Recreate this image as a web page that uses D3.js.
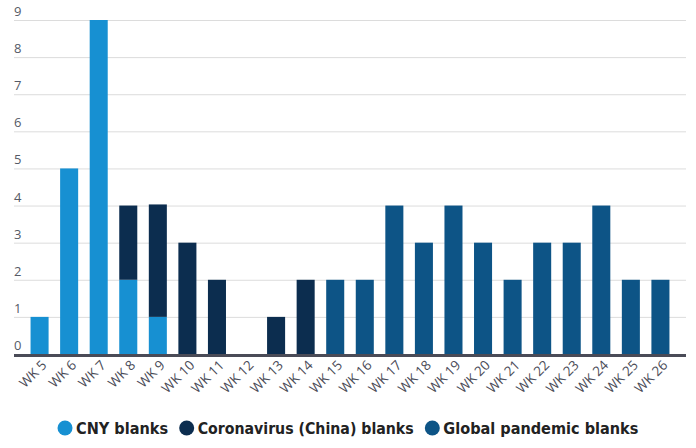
<!DOCTYPE html>
<html>
<head>
<meta charset="utf-8">
<script src="https://cdn.jsdelivr.net/npm/d3@7"></script>
<style>
  html, body { margin: 0; padding: 0; background: #fff; }
  svg { display: block; }
</style>
</head>
<body>
<svg id="chart" width="696" height="448"></svg>
<script>
// Weekly counts of blank sailings, split by cause
const weeks = ["WK 5","WK 6","WK 7","WK 8","WK 9","WK 10","WK 11","WK 12","WK 13","WK 14","WK 15",
               "WK 16","WK 17","WK 18","WK 19","WK 20","WK 21","WK 22","WK 23","WK 24","WK 25","WK 26"];
const cnyBlanks      = [1, 5, 9, 2, 1, 0, 0, 0, 0, 0, 0, 0, 0, 0, 0, 0, 0, 0, 0, 0, 0, 0];
const coronaBlanks   = [0, 0, 0, 2, 3.03, 3, 2, 0, 1, 2, 0, 0, 0, 0, 0, 0, 0, 0, 0, 0, 0, 0];
const pandemicBlanks = [0, 0, 0, 0, 0, 0, 0, 0, 0, 0, 2, 2, 4, 3, 4, 3, 2, 3, 3, 4, 2, 2];
const seriesNames = ["CNY blanks", "Coronavirus (China) blanks", "Global pandemic blanks"];
const seriesKeys = ["cny", "corona", "pandemic"];
const yTicks = [0, 1, 2, 3, 4, 5, 6, 7, 8, 9];

const colors = d3.scaleOrdinal().domain(seriesKeys).range(["#1790d2", "#0c2d4f", "#0d5486"]);

const rows = weeks.map((w, i) => ({
  week: w, cny: cnyBlanks[i], corona: coronaBlanks[i], pandemic: pandemicBlanks[i]
}));
const stacked = d3.stack().keys(seriesKeys)(rows);

const svg = d3.select("#chart");
const margin = { left: 14, right: 10, top: 20, bottom: 94 };
const W = 696, H = 448;

const x = d3.scaleBand().domain(weeks)
  .range([margin.left, W - margin.right])
  .paddingInner(0.39).paddingOuter(0.56);
const y = d3.scaleLinear().domain([0, 9]).range([H - margin.bottom, margin.top]);

// gridlines with labels sitting just above each line
const grid = svg.append("g");
grid.selectAll("line").data(yTicks).join("line")
  .attr("x1", margin.left).attr("x2", W - margin.right)
  .attr("y1", d => y(d) + 0.5).attr("y2", d => y(d) + 0.5)
  .attr("stroke", "#dcdcdc").attr("stroke-width", 1);
grid.selectAll("text").data(yTicks).join("text")
  .attr("x", margin.left).attr("y", d => y(d) - 4)
  .attr("font-family", "'Open Sans', sans-serif").attr("font-size", 13)
  .attr("fill", "#555a66").text(d => d);

// stacked bars
svg.append("g").selectAll("g").data(stacked).join("g")
  .attr("fill", d => colors(d.key))
  .selectAll("rect").data(d => d.filter(p => p[1] - p[0] > 0)).join("rect")
  .attr("x", d => x(d.data.week))
  .attr("width", x.bandwidth())
  .attr("y", d => y(d[1]))
  .attr("height", d => y(d[0]) - y(d[1]));

// x axis
const xAxis = svg.append("g").attr("transform", `translate(0,${y(0)})`)
  .call(d3.axisBottom(x).tickSize(0).tickPadding(0));
xAxis.select(".domain").attr("stroke", "#4a4b57").attr("stroke-width", 3)
  .attr("d", `M${margin.left},1.5H${W - margin.right}`);
xAxis.selectAll("text")
  .attr("font-family", "'Open Sans', sans-serif").attr("font-size", 13.5)
  .attr("fill", "#4a4b57")
  .attr("text-anchor", "end")
  .attr("dy", null).attr("y", 0)
  .attr("transform", "translate(8,12) rotate(-45)");

// legend
const legendFont = "'DejaVu Sans Condensed', 'DejaVu Sans', sans-serif";
const legend = svg.append("g").attr("transform", "translate(0,434)");
const items = legend.selectAll("g").data(seriesKeys).join("g");
items.append("circle").attr("r", 7.5).attr("cy", -6).attr("fill", d => colors(d));
items.append("text").attr("x", 11).attr("font-family", legendFont)
  .attr("font-weight", "bold").attr("font-size", 16.5).attr("fill", "#222")
  .attr("textLength", (d, i) => [92, 216, 195][i])
  .attr("lengthAdjust", "spacingAndGlyphs")
  .text((d, i) => seriesNames[i]);
const gap = 11;
let offsets = [], cur = 0;
items.each(function () {
  const w = this.getBBox().width;
  offsets.push(cur);
  cur += w + gap;
});
const total = cur - gap;
const start = (W - total) / 2 + 7.5;
items.attr("transform", (d, i) => `translate(${start + offsets[i]},0)`);
</script>
</body>
</html>
